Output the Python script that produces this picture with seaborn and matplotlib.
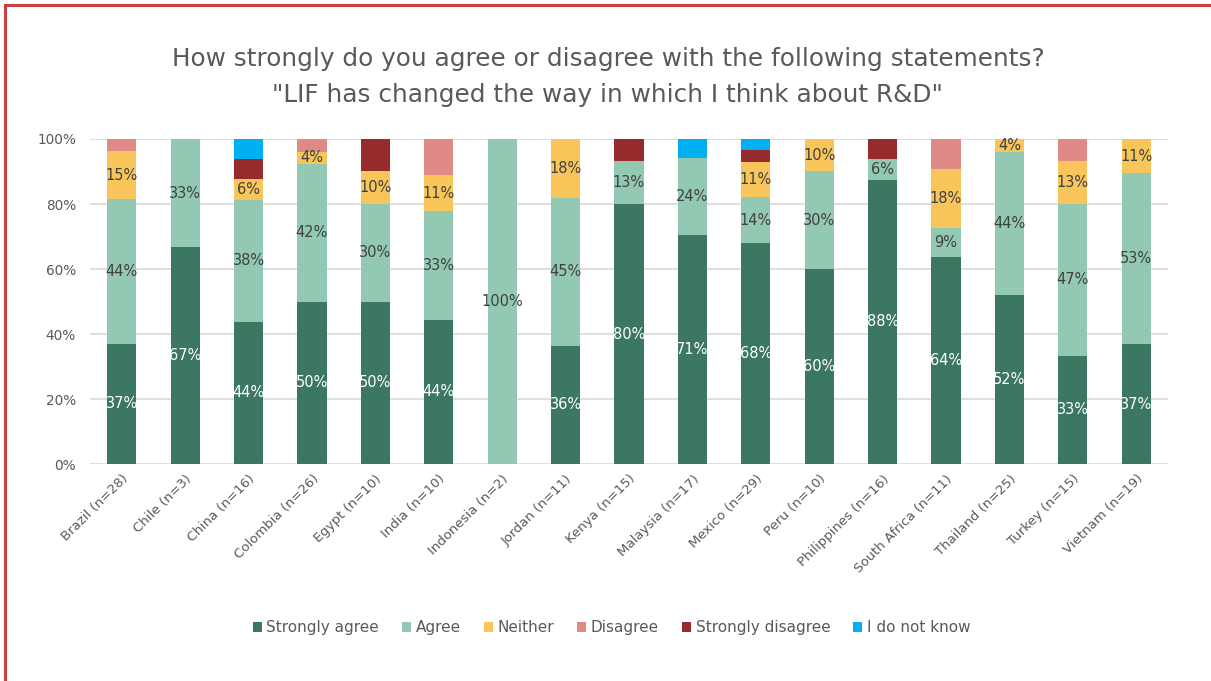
import matplotlib
matplotlib.use("Agg")
import matplotlib.pyplot as plt
from matplotlib.patches import Patch, Rectangle
import numpy as np
import pandas as pd
import seaborn as sns

# Survey responses per country, in percent of respondents
countries = ["Brazil (n=28)", "Chile (n=3)", "China (n=16)", "Colombia (n=26)",
             "Egypt (n=10)", "India (n=10)", "Indonesia (n=2)", "Jordan (n=11)",
             "Kenya (n=15)", "Malaysia (n=17)", "Mexico (n=29)", "Peru (n=10)",
             "Philippines (n=16)", "South Africa (n=11)", "Thailand (n=25)",
             "Turkey (n=15)", "Vietnam (n=19)"]

strongly_agree    = [37.0, 66.7, 43.8, 50.0, 50.0, 44.4, 0.0, 36.4, 80.0, 70.6, 67.9, 60.0, 87.5, 63.6, 52.0, 33.3, 36.8]
agree             = [44.4, 33.3, 37.5, 42.3, 30.0, 33.3, 100.0, 45.4, 13.3, 23.5, 14.3, 30.0, 6.25, 9.1, 44.0, 46.7, 52.6]
neither           = [14.8, 0.0, 6.25, 3.8, 10.0, 11.1, 0.0, 18.2, 0.0, 0.0, 10.7, 10.0, 0.0, 18.2, 4.0, 13.3, 10.6]
disagree          = [3.7, 0.0, 0.0, 3.8, 0.0, 11.1, 0.0, 0.0, 0.0, 0.0, 0.0, 0.0, 0.0, 9.1, 0.0, 6.7, 0.0]
strongly_disagree = [0.0, 0.0, 6.25, 0.0, 10.0, 0.0, 0.0, 0.0, 6.7, 0.0, 3.6, 0.0, 6.25, 0.0, 0.0, 0.0, 0.0]
do_not_know       = [0.0, 0.0, 6.25, 0.0, 0.0, 0.0, 0.0, 0.0, 0.0, 5.9, 3.6, 0.0, 0.0, 0.0, 0.0, 0.0, 0.0]

series_names = ["Strongly agree", "Agree", "Neither", "Disagree", "Strongly disagree", "I do not know"]
series_values = [strongly_agree, agree, neither, disagree, strongly_disagree, do_not_know]
series_colors = ["#3C7762", "#93C9B3", "#F8C55A", "#E08A87", "#962B2D", "#00B0F0"]
# only the first three series carry data labels
label_colors = ["white", "#404040", "#404040", None, None, None]

sns.set_style("white")
plt.rcParams["font.family"] = ["DejaVu Sans"]

text_gray = "#595959"

fig = plt.figure(figsize=(12.11, 6.81), dpi=100)
ax = fig.add_axes([0.0743, 0.3186, 0.8902, 0.4773])

bottom = np.zeros(len(countries))
for name, vals, color, lc in zip(series_names, series_values, series_colors, label_colors):
    vals = np.array(vals, dtype=float)
    df = pd.DataFrame({"country": countries, "value": vals})
    sns.barplot(data=df, x="country", y="value", color=color, width=0.46,
                bottom=bottom, ax=ax, saturation=1, linewidth=0, errorbar=None)
    if lc is not None:
        for i, v in enumerate(vals):
            if v > 0:
                ax.text(i, bottom[i] + v / 2, f"{v:.0f}%", ha="center", va="center",
                        color=lc, fontsize=10.5)
    bottom = bottom + vals

ax.set_ylim(0, 100)
ax.set_xlim(-0.5, len(countries) - 0.5)
ax.set_yticks(np.arange(0, 101, 20))
ax.set_yticklabels([f"{t}%" for t in range(0, 101, 20)], color=text_gray, fontsize=9.8)
ax.set_xticks(range(len(countries)))
ax.set_xticklabels(countries, rotation=45, ha="right", rotation_mode="anchor",
                   color=text_gray, fontsize=9.5)
ax.tick_params(axis="y", length=0, pad=10)
ax.tick_params(axis="x", length=0, pad=6)
ax.set_xlabel("")
ax.set_ylabel("")
ax.grid(axis="y", color="#D9D9D9", linewidth=1.2)
ax.set_axisbelow(True)
for s in ax.spines.values():
    s.set_visible(False)

fig.text(0.502, 0.914, "How strongly do you agree or disagree with the following statements?",
         ha="center", va="center", fontsize=17.8, color=text_gray)
fig.text(0.502, 0.861, "\"LIF has changed the way in which I think about R&D\"",
         ha="center", va="center", fontsize=17.8, color=text_gray)

handles = [Patch(facecolor=c, edgecolor="none") for c in series_colors]
fig.legend(handles, series_names, loc="center", bbox_to_anchor=(0.505, 0.078), ncol=6,
           frameon=False, fontsize=11, handlelength=0.6, handleheight=0.6,
           handletextpad=0.3, columnspacing=1.5, labelcolor=text_gray)

# red frame around the figure
fig.add_artist(Rectangle((4.5 / 1211, -0.01), 1.05, 1 - 5.0 / 681 + 0.01,
                         transform=fig.transFigure, fill=False,
                         edgecolor="#C8403F", linewidth=2.2, clip_on=False))

fig.savefig("out.png", dpi=100)
